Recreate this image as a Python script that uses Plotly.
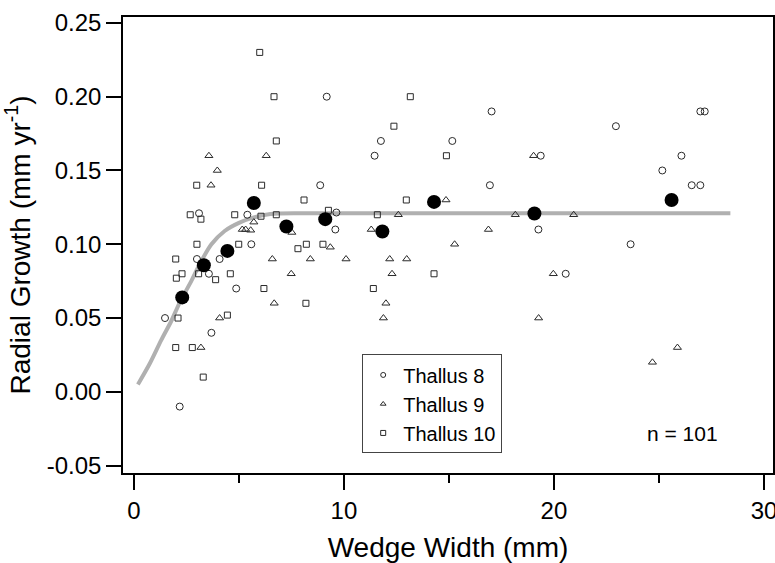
import plotly.graph_objects as go

# Thallus 8 (open circles)
t8_x = [9.18, 8.87, 3.10, 5.40, 9.64, 9.59, 5.59, 3.00, 4.08, 3.57, 4.87, 1.48, 3.69, 2.18,
        17.03, 11.76, 15.16, 11.46, 19.37, 16.95, 19.26, 26.97, 27.18, 22.95, 26.07, 25.16,
        26.56, 26.97, 23.65, 20.56]
t8_y = [0.200, 0.140, 0.121, 0.120, 0.1215, 0.110, 0.100, 0.090, 0.090, 0.080, 0.070, 0.050, 0.040, -0.010,
        0.190, 0.170, 0.170, 0.160, 0.160, 0.140, 0.110, 0.190, 0.190, 0.180, 0.160, 0.150,
        0.140, 0.140, 0.100, 0.080]

# Thallus 9 (open triangles)
t9_x = [3.57, 6.30, 3.97, 3.67, 7.52, 5.16, 5.32, 5.56, 5.71, 6.59, 9.35, 8.40, 10.10, 7.49,
        6.68, 4.08, 3.19, 19.03, 14.86, 12.59, 18.16, 11.30, 16.88, 15.27, 12.18, 12.99,
        12.29, 19.97, 12.00, 11.88, 19.27, 20.94, 25.88, 24.69]
t9_y = [0.160, 0.160, 0.150, 0.140, 0.108, 0.110, 0.110, 0.1095, 0.115, 0.090, 0.098, 0.090, 0.090, 0.080,
        0.060, 0.050, 0.030, 0.160, 0.130, 0.120, 0.120, 0.110, 0.110, 0.100, 0.090, 0.090,
        0.080, 0.080, 0.060, 0.050, 0.050, 0.120, 0.030, 0.020]

# Thallus 10 (open squares)
t10_x = [5.99, 6.67, 6.78, 2.99, 6.08, 8.10, 2.68, 3.19, 4.80, 6.05, 6.78, 9.26, 3.00, 4.99,
         7.81, 8.21, 9.00, 1.99, 2.29, 2.02, 3.08, 3.89, 4.59, 6.19, 8.19, 2.10, 4.45, 1.99,
         2.78, 3.30, 13.16, 12.38, 14.88, 12.97, 11.59, 14.29, 11.40]
t10_y = [0.230, 0.200, 0.170, 0.140, 0.140, 0.130, 0.120, 0.117, 0.120, 0.119, 0.120, 0.123, 0.100, 0.100,
         0.097, 0.100, 0.100, 0.090, 0.080, 0.077, 0.080, 0.076, 0.080, 0.070, 0.060, 0.050, 0.052, 0.030,
         0.030, 0.010, 0.200, 0.180, 0.160, 0.130, 0.120, 0.080, 0.070]

# Bin means (filled circles)
mean_x = [2.30, 3.33, 4.45, 5.71, 7.26, 9.11, 11.83, 14.29, 19.07, 25.60]
mean_y = [0.064, 0.0858, 0.0955, 0.128, 0.112, 0.117, 0.1086, 0.1287, 0.1208, 0.130]

# Fitted curve
fit_x = [0.19, 0.75, 1.30, 1.78, 2.18, 2.73, 3.13, 3.69, 4.32, 5.00, 5.67, 6.50, 8.0, 12.0, 18.0, 24.0, 28.4]
fit_y = [0.005, 0.019, 0.035, 0.048, 0.0605, 0.075, 0.0865, 0.100, 0.109, 0.1145, 0.118, 0.1205,
         0.121, 0.121, 0.121, 0.121, 0.121]

# Tick labels
x_ticks = [0, 10, 20, 30]
y_ticks = [-0.05, 0, 0.05, 0.10, 0.15, 0.20, 0.25]
y_tick_labels = ["-0.05", "0.00", "0.05", "0.10", "0.15", "0.20", "0.25"]
x_minor_ticks = [5, 15, 25]

legend_names = ["Thallus 8", "Thallus 9", "Thallus 10"]
n_label = "n = 101"

FONT = "Liberation Sans, Arial, sans-serif"
MK = "#2a2a2a"

fig = go.Figure()

fig.add_trace(go.Scatter(x=fit_x, y=fit_y, mode="lines",
                         line=dict(color="#b0b0b0", width=4, shape="spline", smoothing=0.8),
                         showlegend=False, hoverinfo="skip"))

for xs, ys, sym, sz in [(t8_x, t8_y, "circle-open", 7),
                        (t9_x, t9_y, "triangle-up-open", 7),
                        (t10_x, t10_y, "square-open", 6)]:
    fig.add_trace(go.Scatter(x=xs, y=ys, mode="markers",
                             marker=dict(symbol=sym, size=sz, color=MK, line=dict(width=1, color=MK)),
                             showlegend=False))

fig.add_trace(go.Scatter(x=mean_x, y=mean_y, mode="markers",
                         marker=dict(symbol="circle", size=14, color="black"),
                         showlegend=False))

# legend entries (small symbols)
for i, (name, sym) in enumerate(zip(legend_names, ["circle-open", "triangle-up-open", "square-open"])):
    fig.add_trace(go.Scatter(x=[None], y=[None], mode="markers", name=name, legendgroup=str(i),
                             marker=dict(symbol=sym, size=5, color=MK, line=dict(width=1, color=MK))))

fig.add_annotation(text=n_label, x=0.861, y=0.0866, xref="paper", yref="paper",
                   xanchor="center", yanchor="middle",
                   showarrow=False, font=dict(family=FONT, size=21, color="black"))

fig.update_layout(
    width=775, height=563,
    margin=dict(l=123, r=2, t=17, b=90, autoexpand=False),
    plot_bgcolor="white", paper_bgcolor="white",
    font=dict(family=FONT, color="black"),
    legend=dict(x=0.368, y=0.26, xanchor="left", yanchor="top",
                bordercolor="#444", borderwidth=1, bgcolor="white",
                font=dict(family=FONT, size=20, color="black"),
                tracegroupgap=0, itemwidth=30),
    showlegend=True,
)

fig.update_xaxes(range=[-0.52, 30.43], tickvals=x_ticks, ticks="outside", ticklen=15,
                 tickwidth=1.5, tickcolor="black", showline=True, linecolor="black", linewidth=1.5,
                 mirror=True, showgrid=False, zeroline=False, automargin=False,
                 ticklabeloverflow="allow",
                 tickfont=dict(family=FONT, size=24, color="black"),
                 minor=dict(tickvals=x_minor_ticks, ticks="outside", ticklen=8, tickwidth=1.5, tickcolor="black"),
                 title=dict(text="Wedge Width (mm)", font=dict(family=FONT, size=28, color="black"), standoff=21))

fig.update_yaxes(range=[-0.055, 0.254], tickvals=y_ticks, ticktext=y_tick_labels,
                 ticks="outside", ticklen=15,
                 tickwidth=1.5, tickcolor="black", showline=True, linecolor="black", linewidth=1.5,
                 mirror=True, showgrid=False, zeroline=False, automargin=False,
                 ticklabeloverflow="allow",
                 tickfont=dict(family=FONT, size=24, color="black"),
                 title=dict(text="Radial Growth (mm yr<sup>-1</sup>)", font=dict(family=FONT, size=28, color="black"),
                            standoff=16))

fig.write_html("out.html", config={"displayModeBar": False},
               post_script="document.body.style.margin='0';")
